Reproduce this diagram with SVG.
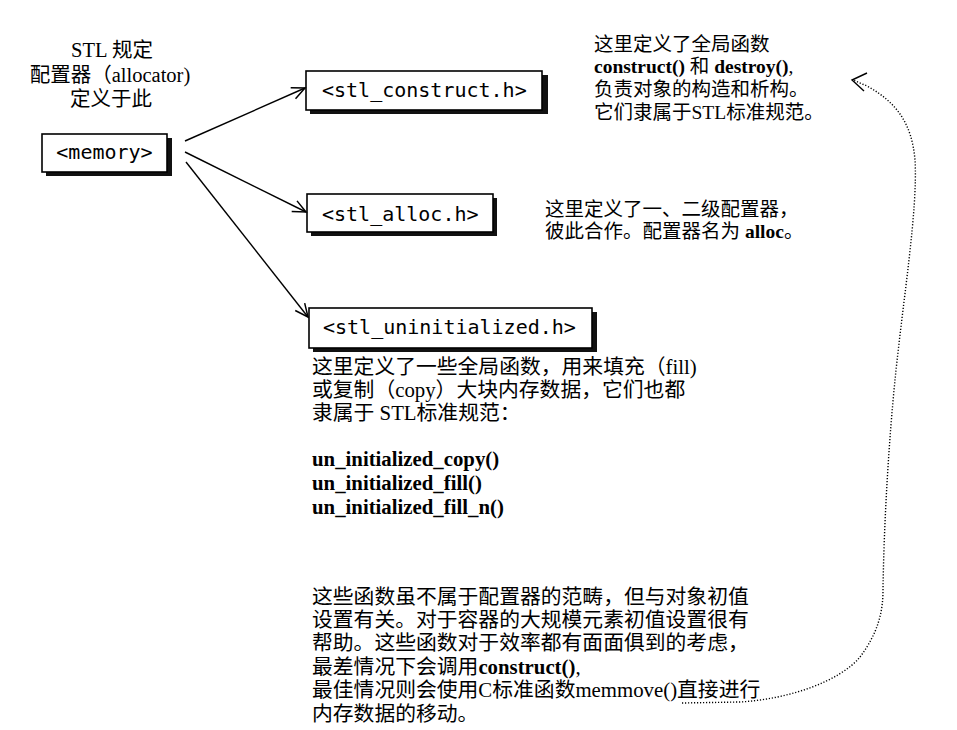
<svg xmlns="http://www.w3.org/2000/svg" width="957" height="730" viewBox="0 0 957 730">
<style>
.shadow{fill:#111;}
.box{fill:#fff;stroke:#000;stroke-width:1.6;}
.code{font-family:"DejaVu Sans Mono","Liberation Mono",monospace;font-size:20px;fill:#000;}
.t{font-family:"Liberation Serif","Noto Sans CJK SC",sans-serif;fill:#000;}
.b{font-weight:bold;}
.edge{stroke:#000;stroke-width:1.4;fill:none;}
.dot{stroke:#000;stroke-width:1.4;fill:none;stroke-dasharray:1.2 1.8;}
</style>
<defs>
<marker id="arr" markerUnits="userSpaceOnUse" markerWidth="16" markerHeight="16" refX="14" refY="7" orient="auto" viewBox="0 0 16 14">
<path d="M1,1 L14,7 L1,13" fill="none" stroke="#000" stroke-width="1.5"/>
</marker>
</defs>
<rect width="957" height="730" fill="#fff"/>

<g id="caption-left" class="t" font-size="20.5" text-anchor="middle">
<text x="112" y="57">STL 规定</text>
<text x="110" y="82">配置器（allocator)</text>
<text x="111" y="106">定义于此</text>
</g>

<g id="node-memory">
<rect class="shadow" x="46" y="138" width="126" height="38"/>
<rect class="box" x="42" y="134" width="125" height="38"/>
<text class="code" x="104.5" y="159" text-anchor="middle">&lt;memory&gt;</text>
</g>

<g id="node-construct">
<rect class="shadow" x="310" y="75" width="238" height="39"/>
<rect class="box" x="306" y="71" width="236" height="39"/>
<text class="code" x="322" y="97">&lt;stl_construct.h&gt;</text>
</g>

<g id="node-alloc">
<rect class="shadow" x="311" y="198" width="186" height="38"/>
<rect class="box" x="307" y="194" width="186" height="38"/>
<text class="code" x="322" y="221">&lt;stl_alloc.h&gt;</text>
</g>

<g id="node-uninitialized">
<rect class="shadow" x="313" y="312" width="284" height="40"/>
<rect class="box" x="309" y="308" width="283" height="40"/>
<text class="code" x="323" y="334">&lt;stl_uninitialized.h&gt;</text>
</g>

<g id="note-construct" class="t" font-size="19.5">
<text x="594" y="51">这里定义了全局函数</text>
<text x="594" y="73"><tspan class="b">construct()</tspan> 和 <tspan class="b">destroy()</tspan>,</text>
<text x="594" y="96">负责对象的构造和析构。</text>
<text x="594" y="119">它们隶属于STL标准规范。</text>
</g>

<g id="note-alloc" class="t" font-size="19.5">
<text x="545" y="216">这里定义了一、二级配置器，</text>
<text x="545" y="238">彼此合作。配置器名为 <tspan class="b">alloc</tspan>。</text>
</g>

<g id="note-uninitialized" class="t" font-size="20.8">
<text x="312" y="374">这里定义了一些全局函数，用来填充（fill)</text>
<text x="312" y="397">或复制（copy）大块内存数据，它们也都</text>
<text x="312" y="420">隶属于 STL标准规范：</text>
<text x="312" y="466" class="b">un_initialized_copy()</text>
<text x="312" y="490" class="b">un_initialized_fill()</text>
<text x="312" y="514" class="b">un_initialized_fill_n()</text>
<text x="312" y="604">这些函数虽不属于配置器的范畴，但与对象初值</text>
<text x="312" y="627">设置有关。对于容器的大规模元素初值设置很有</text>
<text x="312" y="650">帮助。这些函数对于效率都有面面俱到的考虑，</text>
<text x="312" y="674">最差情况下会调用<tspan class="b">construct()</tspan>,</text>
<text x="312" y="697">最佳情况则会使用C标准函数memmove()直接进行</text>
<text x="312" y="721">内存数据的移动。</text>
</g>

<g id="connectors">
<line class="edge" x1="185" y1="141" x2="305" y2="88" marker-end="url(#arr)"/>
<line class="edge" x1="185" y1="152" x2="306" y2="212" marker-end="url(#arr)"/>
<line class="edge" x1="186" y1="162" x2="308" y2="317" marker-end="url(#arr)"/>
<path class="dot" d="M682,703 L740,702 C790,699 840,681 860,657 C878,633 883,612 883,590 C884,520 889,440 895,380 C903,300 918,210 915,160 C912,125 898,103 867,86 L853,80"/>
<polyline points="867,73 852,80 864,91" fill="none" stroke="#000" stroke-width="1.4"/>
</g>
</svg>
